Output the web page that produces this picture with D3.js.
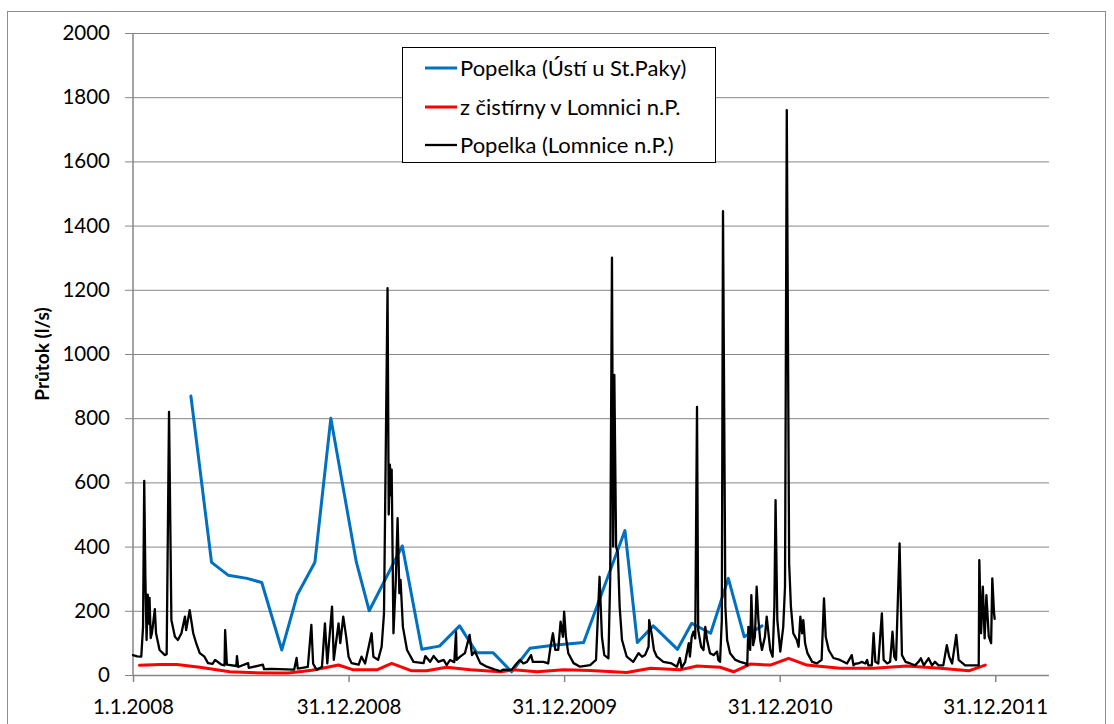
<!DOCTYPE html>
<html>
<head>
<meta charset="utf-8">
<script src="https://cdn.jsdelivr.net/npm/d3@7"></script>
<style>
  html, body { margin: 0; padding: 0; background: #fff; }
  svg { display: block; }
  text { font-family: Lato, "Open Sans", sans-serif; fill: #000; }
</style>
</head>
<body>
<svg id="chart" width="1114" height="724"></svg>
<script>
// Flow series, x = days since 1.1.2008, y = flow in l/s

// Popelka (Lomnice n.P.) – daily gauge record
const lomniceDay = [0,7,14,17,19,21,23,25,26,28,30,32,37,39,45,54,57,61,65,71,76,82,88,90,96,102,107,113,121,127,135,139,150,155,156,159,175,176,178,195,196,220,222,234,273,277,279,296,302,305,311,320,325,329,337,340,348,351,356,361,365,370,382,387,393,404,407,415,421,425,428,431,433,435,437,438,441,445,448,451,453,457,464,475,492,495,503,509,517,526,531,537,544,547,548,554,562,570,574,579,588,599,613,622,627,641,647,655,661,667,674,677,686,695,703,707,711,715,720,724,728,730,733,737,746,757,774,784,790,794,798,805,808,811,813,815,818,821,824,828,836,847,856,862,867,873,874,879,882,887,898,912,921,926,929,935,941,943,946,949,952,955,957,962,966,969,972,977,983,989,991,994,997,999,1003,1006,1011,1020,1028,1037,1040,1042,1045,1047,1050,1053,1056,1059,1062,1065,1070,1073,1076,1079,1083,1086,1088,1091,1096,1101,1104,1107,1111,1114,1118,1124,1127,1130,1133,1135,1138,1142,1150,1158,1166,1170,1173,1178,1186,1197,1209,1217,1220,1223,1228,1234,1240,1243,1245,1251,1254,1257,1262,1268,1271,1277,1282,1286,1289,1292,1298,1302,1308,1316,1324,1330,1334,1339,1347,1353,1358,1364,1372,1378,1382,1387,1394,1398,1409,1429,1432,1433,1436,1439,1442,1445,1449,1453,1455,1458,1459];
const lomniceFlow = [62,58,57,150,605,300,109,250,160,240,115,130,205,130,78,62,65,820,171,119,109,130,182,140,202,130,99,68,57,37,35,47,32,30,140,32,28,59,25,37,22,32,18,19,17,53,20,25,156,35,16,26,161,36,213,47,161,99,182,119,57,37,32,57,36,130,57,47,88,192,700,1205,500,655,560,640,130,296,489,255,296,150,78,41,37,59,41,59,41,47,31,47,40,135,47,57,68,125,62,73,37,26,17,12,17,16,30,47,36,41,62,41,41,41,36,88,130,78,78,166,119,197,119,68,37,26,31,47,306,119,62,52,300,1300,400,935,400,380,213,109,57,41,68,57,62,88,171,119,78,57,41,36,26,53,22,41,99,57,119,135,114,835,140,88,78,150,109,68,62,73,47,41,171,1445,213,109,68,47,41,36,30,150,78,249,93,119,275,171,109,78,119,182,130,78,57,213,545,171,73,150,275,1760,348,213,130,109,88,182,130,171,99,68,41,36,47,239,119,78,53,47,36,62,30,35,36,41,36,47,30,30,130,41,36,192,47,36,41,135,57,47,410,62,41,36,30,41,52,30,52,30,41,30,30,93,57,36,125,47,30,30,30,358,130,275,114,249,120,99,301,192,175];

// Popelka (Ústí u St.Paky) – spot measurements
const ustiDay  = [98,133,161,193,218,252,278,308,335,378,400,456,489,519,553,582,610,641,672,712,763,833,854,881,922,946,978,1008,1035,1065];
const ustiFlow = [869,351,311,301,288,78,249,351,800,353,200,402,80,90,153,69,69,10,83,93,101,450,101,153,80,161,130,301,119,153];

// Outflow from the Lomnice n.P. treatment plant
const cistirnaDay  = [11,46,74,113,164,226,263,303,348,373,413,438,472,497,531,571,622,644,684,729,774,836,876,926,955,994,1017,1045,1079,1110,1141,1197,1254,1310,1367,1415,1443];
const cistirnaFlow = [30,33,33,24,10,6,6,15,31,16,16,36,13,13,24,16,10,16,10,16,14,8,21,16,28,24,10,34,31,52,31,21,21,28,21,13,31];

// Axis definitions
const xTickDays   = [0, 365, 730, 1095, 1460];
const xTickLabels = ["1.1.2008", "31.12.2008", "31.12.2009", "31.12.2010", "31.12.2011"];
const xMaxDay     = 1551;
const yTicks      = [0, 200, 400, 600, 800, 1000, 1200, 1400, 1600, 1800, 2000];
const yTitle      = "Průtok (l/s)";

const seriesNames  = ["Popelka (Ústí u St.Paky)", "z čistírny v Lomnici n.P.", "Popelka (Lomnice n.P.)"];
const seriesColors = ["#0070C0", "#FF0000", "#000000"];
const seriesWidths = [3, 3, 2.3];

const svg = d3.select("#chart");

// Chart frame
svg.append("rect")
  .attr("x", 7.5).attr("y", 11.5)
  .attr("width", 1098).attr("height", 740)
  .attr("fill", "#fff").attr("stroke", "#8c8c8c").attr("stroke-width", 1);

const plot = { left: 133, right: 1049, top: 33, bottom: 675 };

const x = d3.scaleLinear().domain([0, xMaxDay]).range([plot.left, plot.right]);
const y = d3.scaleLinear().domain([0, 2000]).range([plot.bottom, plot.top]);

// Horizontal gridlines + y axis
const yAxis = d3.axisLeft(y)
  .tickValues(yTicks)
  .tickSize(-(plot.right - plot.left))
  .tickPadding(23)
  .tickFormat(d3.format("d"));

const gy = svg.append("g")
  .attr("transform", `translate(${plot.left},0)`)
  .call(yAxis);
gy.select(".domain").remove();
gy.selectAll(".tick line")
  .attr("x1", -8)
  .attr("stroke", "#868686").attr("stroke-width", 1);
gy.selectAll(".tick text")
  .attr("font-size", 20.5).attr("font-family", "Lato, sans-serif").attr("fill", "#000");

// Vertical axis line
svg.append("line")
  .attr("x1", plot.left).attr("x2", plot.left)
  .attr("y1", plot.top).attr("y2", plot.bottom)
  .attr("stroke", "#868686").attr("stroke-width", 1.5);

// x axis
const xAxis = d3.axisBottom(x)
  .tickValues(xTickDays)
  .tickSize(7)
  .tickPadding(17)
  .tickFormat((d, i) => xTickLabels[i]);

const gx = svg.append("g")
  .attr("transform", `translate(0,${plot.bottom})`)
  .call(xAxis);
gx.select(".domain")
  .attr("d", `M${plot.left},0.5H${plot.right}`)
  .attr("stroke", "#868686").attr("stroke-width", 1.5);
gx.selectAll(".tick line").attr("stroke", "#868686").attr("stroke-width", 1.5);
gx.selectAll(".tick text")
  .attr("font-size", 20.5).attr("font-family", "Lato, sans-serif").attr("fill", "#000");

// y axis title
svg.append("text")
  .attr("transform", `translate(49,${(plot.top + plot.bottom) / 2}) rotate(-90)`)
  .attr("text-anchor", "middle")
  .attr("font-size", 19).attr("font-weight", "bold")
  .text(yTitle);

// Series lines
const line = d3.line()
  .x(d => x(d[0]))
  .y(d => y(d[1]));

const series = [
  d3.zip(ustiDay, ustiFlow),
  d3.zip(cistirnaDay, cistirnaFlow),
  d3.zip(lomniceDay, lomniceFlow)
];

series.forEach((pts, i) => {
  svg.append("path")
    .datum(pts)
    .attr("fill", "none")
    .attr("stroke", seriesColors[i])
    .attr("stroke-width", seriesWidths[i])
    .attr("stroke-linejoin", "round")
    .attr("stroke-linecap", "round")
    .attr("d", line);
});

// Legend
const legend = svg.append("g");
legend.append("rect")
  .attr("x", 402.5).attr("y", 47.5)
  .attr("width", 313).attr("height", 115)
  .attr("fill", "#fff").attr("stroke", "#000").attr("stroke-width", 1);

const rowY = [68, 107, 145];
seriesNames.forEach((name, i) => {
  legend.append("line")
    .attr("x1", 425).attr("x2", 457)
    .attr("y1", rowY[i]).attr("y2", rowY[i])
    .attr("stroke", seriesColors[i])
    .attr("stroke-width", seriesWidths[i]);
  legend.append("text")
    .attr("x", 460).attr("y", rowY[i])
    .attr("dy", "0.35em")
    .attr("font-size", 22)
    .text(name);
});
</script>
</body>
</html>
